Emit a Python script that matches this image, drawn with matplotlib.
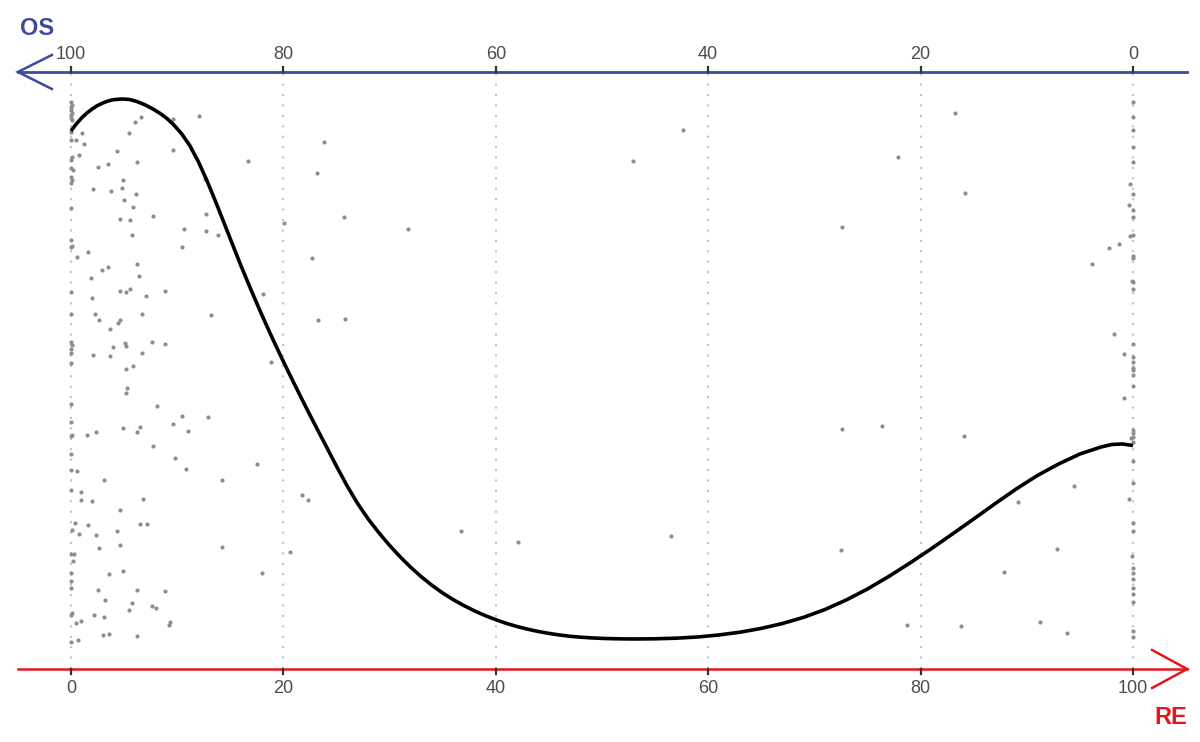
import matplotlib
matplotlib.use("Agg")
import matplotlib.pyplot as plt

plt.rcParams['font.family'] = ['Liberation Sans', 'DejaVu Sans']

# ---- data (RE scale 0..100 on x, arbitrary vertical position on y) ----
re_ticks = [0, 20, 40, 60, 80, 100]
re_tick_labels = ['0', '20', '40', '60', '80', '100']
os_tick_labels = ['100', '80', '60', '40', '20', '0']

# points stacked on RE = 0
col0_y = [567, 564, 562, 559, 556, 554, 551, 549, 537, 529, 512, 509, 501, 499,
          492, 489, 486, 461, 429, 423, 422, 377, 355, 327, 324, 320, 316, 306,
          265, 247, 234, 233, 215, 199, 179, 139, 115, 108, 96, 88, 81, 56, 54, 27]
col0_x = [0.0, 0.1, 0.0, 0.0, 0.1, 0.0, 0.0, 0.1, 0.0, 0.0, 0.1, 0.0, 0.0, 0.2,
          0.0, 0.1, 0.0, 0.0, 0.0, 0.1, 0.0, 0.0, 0.0, 0.0, 0.1, 0.0, 0.0, 0.0,
          0.0, 0.0, 0.1, 0.0, 0.0, 0.0, 0.0, 0.1, 0.0, 0.2, 0.0, 0.0, 0.0, 0.1, 0.0, 0.0]

# points stacked on RE = 100
col100_y = [567, 552, 539, 522, 507, 475, 459, 452, 434, 413, 411, 387, 380, 325,
            312, 307, 301, 299, 294, 283, 239, 236, 232, 227, 208, 186, 146, 138,
            101, 96, 90, 81, 75, 67, 38, 32]
col100_x = [100.0] * len(col100_y)

# scattered points left side
left_x = [1.0, 0.5, 1.2, 0.8, 4.3, 5.5, 6.0, 6.6, 9.6, 12.1, 9.6, 2.5, 3.5, 6.2,
          4.9, 2.1, 3.8, 4.8, 6.1, 5.0, 5.8, 12.6, 7.7, 4.6, 5.6, 12.7, 12.7, 13.8,
          10.6, 5.7, 10.5, 1.6, 0.6, 2.9, 3.5, 6.2, 6.4, 1.9, 4.6, 5.2, 5.6, 8.9,
          2.0, 7.1, 2.3, 2.6, 4.6, 4.4, 6.7, 13.2, 3.7, 4.0, 5.1, 5.2, 7.6, 8.9,
          2.1, 3.7, 6.7, 5.2, 5.8, 5.3, 5.2, 8.1, 10.5, 12.9, 9.6, 11.0, 4.9, 6.5,
          6.2, 2.4, 1.5, 7.7, 9.8, 10.8, 0.6, 3.1, 14.2, 0.9, 0.9, 2.0, 6.8, 4.6,
          0.4, 1.6, 6.5, 7.2, 0.8, 2.4, 4.3, 4.6, 2.6, 14.2, 0.3, 3.6, 4.9, 2.5,
          6.2, 8.9, 3.2, 5.7, 5.5, 7.6, 8.0, 2.2, 3.1, 0.5, 0.9, 9.3, 9.2, 3.0,
          3.6, 6.2, 0.7]
left_y = [536, 529, 525, 514, 518, 536, 547, 552, 550, 553, 519, 502, 505, 507,
          489, 480, 478, 481, 475, 469, 462, 490, 453, 450, 449, 455, 438, 434,
          440, 434, 422, 417, 412, 399, 402, 405, 393, 391, 378, 377, 380, 378,
          371, 373, 355, 349, 349, 346, 355, 354, 340, 322, 326, 323, 327, 325,
          314, 313, 316, 300, 303, 281, 276, 263, 253, 252, 245, 238, 241, 242,
          237, 237, 234, 223, 211, 200, 198, 189, 189, 177, 169, 168, 170, 159,
          146, 144, 145, 145, 135, 134, 138, 124, 121, 122, 115, 95, 98, 79,
          79, 78, 69, 66, 59, 63, 61, 54, 52, 46, 48, 47, 44, 34,
          35, 33, 29]

# scattered points middle / right
mid_x = [16.7, 23.8, 23.2, 20.1, 25.7, 31.7, 22.7, 18.1, 23.3, 25.8, 18.8, 17.5,
         21.8, 22.3, 20.6, 18.0, 36.7, 42.1, 52.9, 57.6, 56.5, 72.6, 72.6, 76.4,
         72.5, 77.9, 83.2, 84.2, 84.1, 78.7, 83.8,
         99.7, 99.6, 99.7, 98.7, 97.7, 96.1, 99.9, 98.2, 99.2, 99.2, 99.8, 99.6,
         94.4, 89.2, 92.8, 87.9, 91.2, 93.8, 99.9]
mid_y = [508, 527, 496, 446, 452, 440, 411, 375, 349, 350, 307, 205,
         174, 169, 117, 96, 138, 127, 508, 539, 133, 442, 240, 243,
         119, 512, 556, 476, 233, 44, 43,
         485, 464, 433, 425, 421, 405, 388, 335, 315, 271, 231, 170,
         183, 167, 120, 97, 47, 36, 113]

# smoothed curve
curve_x = [0.0, 0.5, 1.0, 1.5, 2.0, 2.5, 3.0, 3.5, 4.0, 4.8, 5.5, 6.2, 7.0, 7.8,
           8.4, 9.0, 9.6, 10.4, 11.2, 12.0, 12.8, 13.6, 14.4, 15.2, 16.0,
           17, 18, 19, 20, 21, 22, 23, 24, 25, 26, 27, 28, 29, 30, 31, 32, 33,
           34, 35, 36, 37, 38, 39, 40, 41, 42, 43, 44, 45, 46, 47, 48, 49, 50,
           51, 52, 53, 55, 57, 59, 61, 63, 65, 67, 69, 71, 73, 75, 77, 79, 81,
           83, 85, 87, 89, 91, 93, 95, 97, 98, 99, 100]
curve_y = [538, 545, 551, 556, 560, 563.5, 566, 568, 569.3, 570, 569.5, 567.5,
           564, 559.5, 555.5, 550.8, 545, 535.5, 523.2, 507.2, 488.4, 467.8,
           446.4, 424.8, 403.4,
           377.9, 353.4, 329.9, 307.4, 285.7, 264.4, 243.7, 223.3, 202.8, 183.1,
           165.3, 149.8, 136.1, 123.6, 112.1, 101.6, 92.1,
           83.6, 76, 69.3, 63.4, 58.1, 53.4, 49.3, 45.6, 42.5, 39.8, 37.5, 35.6,
           34, 32.7, 31.8, 31.1, 30.6,
           30.3, 30.1, 30, 30.2, 30.8, 32, 34, 36.8, 40.6, 45.5, 51.7, 59.5, 69,
           80, 92.5, 106, 120.2,
           135, 150, 165.2, 180, 193.5, 205, 215, 222, 224.5, 225, 223.5]

BLUE = '#3d4b9c'
RED = '#e8161c'
GRAY_PT = '#8e8e8e'

fig = plt.figure(figsize=(12, 7.42), dpi=100)
ax = fig.add_axes([0.0149, 0.0984, 0.9735, 0.8046])
ax.set_xlim(-5, 105)
ax.set_ylim(0, 597)
ax.set_axis_off()

# dotted vertical grid
for t in re_ticks:
    ax.plot([t, t], [0, 597], color='#c2c2c2', lw=1.5, ls=(0, (1, 4)), zorder=1)

# points
ax.scatter(col0_x, col0_y, s=9, color=GRAY_PT, lw=0, zorder=2)
ax.scatter(col100_x, col100_y, s=9, color=GRAY_PT, lw=0, zorder=2)
ax.scatter(left_x, left_y, s=9, color=GRAY_PT, lw=0, zorder=2)
ax.scatter(mid_x, mid_y, s=9, color=GRAY_PT, lw=0, zorder=2)

# curve
ax.plot(curve_x, curve_y, color='black', lw=2.6, zorder=3,
        solid_capstyle='butt', solid_joinstyle='round')

# bottom RE axis (red) with arrow to the right
ax.plot([-5, 105.1], [0, 0], color=RED, lw=1.8, clip_on=False, zorder=4)
ax.plot([101.8, 105.1, 101.8], [19, 0, -19], color=RED, lw=1.8, clip_on=False,
        zorder=4, solid_joinstyle='miter')
# top OS axis (blue) with arrow to the left
ax.plot([-5, 105.1], [597, 597], color=BLUE, lw=2.0, clip_on=False, zorder=4)
ax.plot([-1.8, -5.0, -1.8], [614, 597, 580], color=BLUE, lw=1.8, clip_on=False,
        zorder=4, solid_joinstyle='miter')

# ticks and tick labels
for t, lb, ob in zip(re_ticks, re_tick_labels, os_tick_labels):
    ax.plot([t, t], [0, -5], color='#333333', lw=1.6, clip_on=False, zorder=5)
    ax.plot([t, t], [597, 602], color='#333333', lw=1.6, clip_on=False, zorder=5)
    ax.text(t, -11, lb, ha='center', va='top', fontsize=13, color='#4d4d4d')
    ax.text(t, 606, ob, ha='center', va='bottom', fontsize=13, color='#4d4d4d')

# axis titles
fig.text(20 / 1200, 1 - 35 / 742, 'OS', color=BLUE, fontsize=17, fontweight='bold',
         ha='left', va='baseline')
fig.text(1187 / 1200, 1 - 724 / 742, 'RE', color=RED, fontsize=17, fontweight='bold',
         ha='right', va='baseline')

fig.savefig('out.png', dpi=100)
